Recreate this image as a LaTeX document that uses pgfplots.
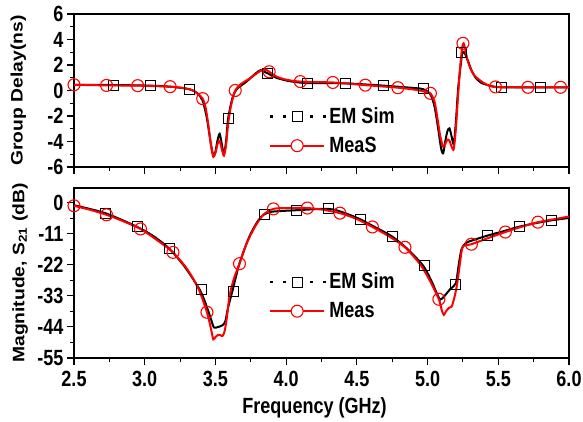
\documentclass[border=0pt]{standalone}
\usepackage{fontspec}
\setmainfont{Liberation Sans}
\newfontfamily\nf{Liberation Sans}[FakeStretch=0.82]
\usepackage{graphicx}
\usepackage{pgfplots}
\pgfplotsset{compat=1.18}
\newcommand\ff{\nf\fontsize{22}{26}\selectfont\bfseries}
\newcommand\yf{\fontsize{19.3}{23}\selectfont\bfseries}
\pgfplotsset{
  myaxis/.style={
    scale only axis, anchor=south west,
    width=495pt, xmin=2.5, xmax=6,
    axis line style={line width=1.3pt},
    tick align=outside, tick pos=left,
    major tick length=7pt, minor tick length=4pt,
    every tick/.style={black, line width=1.1pt},
    xtick={2.5,3,...,6}, minor x tick num=1,
    tick label style={font=\ff},
    xticklabel style={yshift=-3pt},
    /pgf/number format/assume math mode=true,
    legend cell align=left,
  },
  simcurve/.style={black, line width=2pt, smooth, tension=0.45, no marks, forget plot},
  meacurve/.style={red, line width=2pt, smooth, tension=0.45, no marks, forget plot},
  simmarks/.style={only marks, mark=square, mark size=5pt, mark options={black, line width=1pt, fill=none},
    legend image code/.code={
      \draw[black, line width=2.6pt, dash pattern=on 2.6pt off 10.7pt] (0pt,0pt) -- (56pt,0pt);
      \draw[black, line width=1pt, fill=white] (22pt,-5pt) rectangle (32pt,5pt);
    }},
  meamarks/.style={only marks, mark=o, mark size=6pt, mark options={red, line width=1.1pt, fill=white},
    legend image code/.code={
      \draw[red, line width=2pt] (0pt,0pt) -- (54pt,0pt);
      \draw[red, line width=1.1pt, fill=white] (27pt,0pt) circle (6pt);
    }},
  mylegend/.style={legend style={draw=none, fill=none, at={#1}, anchor=north west, font=\ff,
    row sep=6pt, nodes={inner sep=2pt, text height=16pt, text depth=3pt},
    /tikz/every even column/.append style={column sep=4pt}}},
}
\begin{document}
\begin{tikzpicture}
% ---------- top: group delay ----------
\begin{axis}[myaxis, at={(74pt,254pt)}, height=153pt,
  ymin=-6, ymax=6, ytick={-6,-4,...,6}, minor y tick num=1,
  xticklabels={},
  ylabel={\yf\scalebox{1}[0.86]{Group Delay(ns)}},
  ylabel style={at={(axis description cs:-0.1125,0.5)}, anchor=center},
  mylegend={(axis cs:3.855,-0.98)}]
\addplot[simcurve] coordinates {
(2.50,0.45) (2.78,0.43) (3.04,0.38) (3.20,0.28) (3.32,0.09) (3.37,-0.2) (3.41,-0.8)
(3.44,-2.2) (3.465,-4.0) (3.485,-5.1) (3.50,-4.8) (3.515,-3.9) (3.53,-3.4) (3.545,-4.2)
(3.56,-5.0) (3.575,-4.0) (3.59,-2.18) (3.62,-0.6) (3.65,0.1) (3.72,0.7) (3.78,1.3)
(3.82,1.6) (3.85,1.45) (3.87,1.35) (3.93,1.0) (4.03,0.72) (4.15,0.58) (4.42,0.56)
(4.69,0.38) (4.90,0.2) (4.97,0.10) (5.02,-0.3) (5.05,-1.3) (5.075,-3.0) (5.095,-4.5)
(5.11,-4.93) (5.125,-4.0) (5.14,-3.2) (5.155,-2.97) (5.17,-3.6) (5.185,-4.2) (5.20,-2.5)
(5.215,0) (5.23,1.6) (5.245,2.9) (5.26,3.0) (5.275,2.6) (5.29,2.2) (5.31,1.6) (5.34,1.0)
(5.38,0.6) (5.45,0.35) (5.52,0.25) (5.80,0.25) (6.0,0.25)};
\addplot[simmarks] coordinates {
(2.78,0.43) (3.04,0.38) (3.32,0.09) (3.59,-2.18) (3.87,1.35) (4.15,0.58) (4.42,0.56)
(4.69,0.38) (4.97,0.17) (5.24,2.97) (5.52,0.25) (5.80,0.25)};
\addlegendentry{EM Sim}
\addplot[meacurve] coordinates {
(2.50,0.45) (2.73,0.40) (2.95,0.38) (3.18,0.30) (3.28,0.18) (3.34,0.0) (3.38,-0.3)
(3.41,-0.64) (3.43,-1.3) (3.45,-2.7) (3.47,-4.4) (3.485,-5.2) (3.50,-4.9) (3.515,-4.2)
(3.53,-3.95) (3.545,-4.6) (3.56,-5.1) (3.575,-4.3) (3.59,-2.6) (3.61,-1.2) (3.64,0.0)
(3.68,0.5) (3.75,1.0) (3.82,1.55) (3.86,1.62) (3.88,1.47) (3.93,1.1) (4.00,0.85)
(4.10,0.70) (4.33,0.63) (4.56,0.42) (4.79,0.22) (4.92,0.05) (4.98,-0.1) (5.02,-0.22)
(5.05,-0.9) (5.07,-2.2) (5.09,-3.6) (5.11,-4.4) (5.125,-4.2) (5.14,-3.85) (5.155,-3.95)
(5.17,-4.4) (5.185,-4.6) (5.20,-3.0) (5.215,-0.5) (5.23,1.8) (5.245,3.4) (5.255,3.7)
(5.265,3.3) (5.28,2.5) (5.30,1.8) (5.33,1.2) (5.37,0.8) (5.42,0.45) (5.48,0.28)
(5.71,0.25) (5.94,0.25) (6.0,0.25)};
\addplot[meamarks] coordinates {
(2.50,0.45) (2.73,0.40) (2.95,0.38) (3.18,0.30) (3.41,-0.64) (3.64,0.0) (3.88,1.47)
(4.10,0.70) (4.33,0.63) (4.56,0.42) (4.79,0.22) (5.02,-0.22) (5.25,3.7) (5.48,0.28)
(5.71,0.25) (5.94,0.25)};
\addlegendentry{MeaS}
\end{axis}
% ---------- bottom: magnitude ----------
\begin{axis}[myaxis, at={(74pt,63pt)}, height=170pt,
  ymin=-55, ymax=5.2, ytick={0,-11,-22,-33,-44,-55}, minor y tick num=1,
  xticklabel style={/pgf/number format/.cd, fixed, fixed zerofill, precision=1},
  ylabel={\yf\scalebox{1}[0.86]{Magnitude, S\textsubscript{21} (dB)}},
  ylabel style={at={(axis description cs:-0.109,0.5)}, anchor=center},
  xlabel={Frequency (GHz)},
  xlabel style={font=\ff, at={(axis description cs:0.486,0)}, anchor=center, yshift=-50pt},
  mylegend={(axis cs:3.855,-23.3)}]
\addplot[simcurve] coordinates {
(2.50,-0.9) (2.72,-3.7) (2.94,-8.4) (3.06,-11.8) (3.17,-16.1) (3.28,-22.5) (3.39,-30.9)
(3.44,-37) (3.47,-41.5) (3.49,-44.2) (3.52,-44.0) (3.55,-43.4) (3.57,-42.0) (3.59,-37)
(3.62,-31.3) (3.67,-21.5) (3.74,-12) (3.80,-6.5) (3.84,-4.3) (3.90,-3.2) (4.06,-2.7)
(4.30,-2.2) (4.41,-3.6) (4.52,-5.8) (4.63,-8.7) (4.75,-12.0) (4.86,-16.5) (4.97,-22.4)
(5.03,-28) (5.06,-31.5) (5.09,-34.3) (5.12,-33) (5.16,-30.6) (5.20,-28.5) (5.22,-22)
(5.24,-16.5) (5.27,-14.3) (5.32,-13.3) (5.42,-11.7) (5.53,-10.2) (5.64,-8.6) (5.76,-7.3)
(5.87,-6.3) (6.0,-5.4)};
\addplot[simmarks] coordinates {
(2.725,-3.7) (2.95,-8.4) (3.175,-16.1) (3.40,-30.9) (3.625,-31.5) (3.85,-4.3) (4.075,-2.7)
(4.30,-2.2) (4.525,-5.8) (4.75,-12.0) (4.975,-22.4) (5.20,-28.9) (5.425,-11.7) (5.65,-8.6)
(5.875,-6.3)};
\addlegendentry{EM Sim}
\addplot[meacurve] coordinates {
(2.50,-1.1) (2.62,-2.6) (2.73,-4.3) (2.85,-6.6) (2.97,-9.3) (3.08,-13.0) (3.20,-17.6)
(3.30,-23.5) (3.38,-30.5) (3.44,-38.8) (3.47,-45.0) (3.485,-48.4) (3.50,-47.6) (3.52,-46.8)
(3.535,-46.9) (3.55,-47.2) (3.565,-45.5) (3.58,-41) (3.60,-33) (3.63,-27) (3.67,-21.6)
(3.72,-14.5) (3.78,-8.5) (3.84,-4.2) (3.91,-2.2) (4.0,-1.9) (4.15,-1.9) (4.26,-2.5)
(4.38,-3.7) (4.50,-5.8) (4.61,-8.6) (4.73,-12.0) (4.84,-15.8) (4.95,-22) (5.02,-28)
(5.08,-34.2) (5.10,-38) (5.115,-39.7) (5.13,-38.5) (5.15,-37.3) (5.17,-36.8) (5.19,-33.5)
(5.21,-28.5) (5.23,-21) (5.245,-16) (5.26,-15.2) (5.31,-14.7) (5.43,-12.5) (5.55,-10.4)
(5.66,-8.6) (5.78,-6.9) (5.90,-5.8) (6.0,-4.9)};
\addplot[meamarks] coordinates {
(2.50,-1.1) (2.73,-4.3) (2.97,-9.3) (3.20,-17.6) (3.44,-38.8) (3.67,-21.6) (3.91,-2.2)
(4.15,-1.9) (4.38,-3.7) (4.61,-8.6) (4.84,-15.8) (5.08,-34.2) (5.31,-14.7) (5.55,-10.4)
(5.78,-6.9)};
\addlegendentry{Meas}
\end{axis}
\pgfresetboundingbox
\useasboundingbox (0pt,0pt) rectangle (583pt,421pt);
\end{tikzpicture}
\end{document}
